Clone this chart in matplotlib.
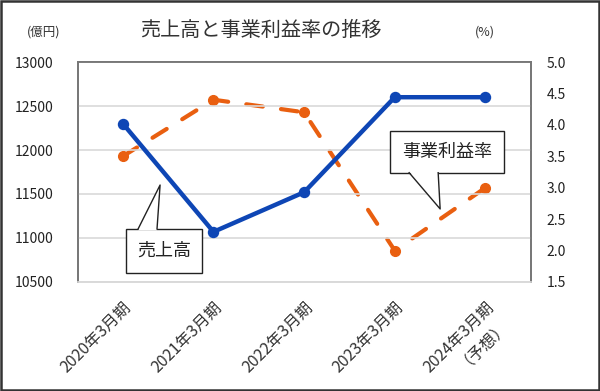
import matplotlib
matplotlib.use("Agg")
import matplotlib.pyplot as plt
from matplotlib.patches import Rectangle, Polygon
from matplotlib.lines import Line2D

plt.rcParams['font.family'] = ['Noto Sans CJK JP', 'DejaVu Sans']

# ---- data ----
categories = ["2020年3月期", "2021年3月期", "2022年3月期", "2023年3月期", "2024年3月期\n（予想）"]
sales = [12300, 11070, 11520, 12600, 12600]          # 億円
margin = [3.5, 4.4, 4.2, 2.0, 3.0]                   # %
left_ticks = [10500, 11000, 11500, 12000, 12500, 13000]
right_ticks = [1.5, 2.0, 2.5, 3.0, 3.5, 4.0, 4.5, 5.0]
title = "売上高と事業利益率の推移"
label_sales = "売上高"
label_margin = "事業利益率"

blue = '#0E46B5'
orange = '#E95F10'

fig = plt.figure(figsize=(6.0, 3.91), dpi=100)
ax = fig.add_axes([0.1292, 0.2788, 0.7553, 0.5626])
ax2 = ax.twinx()

x = list(range(len(categories)))

ax.set_xlim(-0.5, len(categories) - 0.5)
ax.set_ylim(left_ticks[0], left_ticks[-1])
ax.set_yticks(left_ticks)
ax.set_yticklabels([str(v) for v in left_ticks])
ax2.set_ylim(right_ticks[0], right_ticks[-1])
ax2.set_yticks(right_ticks)
ax2.set_yticklabels([f"{v:.1f}" for v in right_ticks])

ax.grid(axis='y', color='#D9D9D9', lw=1.2)
ax.set_axisbelow(True)

for a in (ax, ax2):
    for s in ('top', 'left', 'right'):
        a.spines[s].set_color('#777777')
        a.spines[s].set_linewidth(1.3)
    a.spines['bottom'].set_color('#D9D9D9')
    a.spines['bottom'].set_linewidth(1.2)

ax.tick_params(axis='y', length=0, pad=17.5, labelsize=10, labelcolor='#222222')
ax2.tick_params(axis='y', length=0, pad=11.5, labelsize=10, labelcolor='#222222')
ax.set_xticks(x)
ax.set_xticklabels(categories, rotation=45, ha='right', va='top',
                   rotation_mode='anchor', multialignment='right', linespacing=1.05)
ax.tick_params(axis='x', length=0, pad=12, labelsize=11.5, labelcolor='#333333')

# lines
ax2.plot(x, margin, color=orange, lw=3.0, marker='o', markersize=7,
         dashes=(4.0, 4.4), dash_capstyle='round', zorder=3)
ax.plot(x, sales, color=blue, lw=3.2, marker='o', markersize=7.2, zorder=4)
ax.set_zorder(ax2.get_zorder() + 1)
ax.patch.set_visible(False)

# callouts (in sales-axis data coordinates)
def callout(a, x0, x1, y0, y1, base_l, base_r, tip, text, up=True):
    a.add_patch(Rectangle((x0, y0), x1 - x0, y1 - y0, facecolor='white',
                          edgecolor='#222222', lw=1.0, zorder=6))
    edge_y = y1 if up else y0
    inset = (y1 - y0) * 0.03 * (-1 if up else 1)
    a.add_patch(Polygon([(base_l, edge_y + inset), tip, (base_r, edge_y + inset)],
                        closed=True, facecolor='white', edgecolor='none', zorder=7))
    a.add_line(Line2D([base_l, tip[0], base_r], [edge_y, tip[1], edge_y],
                      color='#222222', lw=1.0, zorder=8))
    a.text((x0 + x1) / 2, (y0 + y1) / 2, text, ha='center', va='center',
           fontsize=13, color='#222222', zorder=9)

callout(ax, 0.035, 0.871, 10606, 11102, 0.168, 0.377, (0.411, 11602), label_sales, up=True)
callout(ax, 2.949, 4.207, 11742, 12219, 3.159, 3.479, (3.501, 11330), label_margin, up=False)

# title and unit labels
fig.text(0.435, 0.923, title, ha='center', va='center', fontsize=14.5, color='#333333')
fig.text(0.072, 0.919, "(億円)", ha='center', va='center', fontsize=9, color='#333333')
fig.text(0.808, 0.919, "(%)", ha='center', va='center', fontsize=9, color='#333333')

# outer border
fig.patches.append(Rectangle((0.002, 0.003), 0.996, 0.994, transform=fig.transFigure,
                             fill=False, edgecolor='#333333', lw=1.8))

fig.savefig("out.png", dpi=100)
